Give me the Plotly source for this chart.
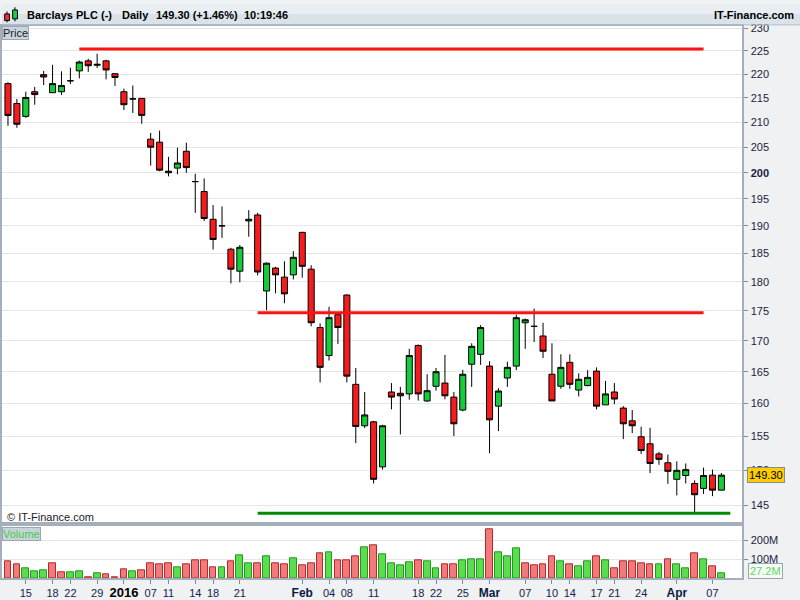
import numpy as np
import plotly.graph_objects as go

# ---------------- data ----------------
dates = [
    "2015-12-11", "2015-12-14", "2015-12-15", "2015-12-16", "2015-12-17", "2015-12-18",
    "2015-12-21", "2015-12-22", "2015-12-23", "2015-12-24", "2015-12-29", "2015-12-30", "2015-12-31",
    "2016-01-04", "2016-01-05", "2016-01-06", "2016-01-07", "2016-01-08",
    "2016-01-11", "2016-01-12", "2016-01-13", "2016-01-14", "2016-01-15",
    "2016-01-18", "2016-01-19", "2016-01-20", "2016-01-21", "2016-01-22",
    "2016-01-25", "2016-01-26", "2016-01-27", "2016-01-28", "2016-01-29",
    "2016-02-01", "2016-02-02", "2016-02-03", "2016-02-04", "2016-02-05",
    "2016-02-08", "2016-02-09", "2016-02-10", "2016-02-11", "2016-02-12",
    "2016-02-15", "2016-02-16", "2016-02-17", "2016-02-18", "2016-02-19",
    "2016-02-22", "2016-02-23", "2016-02-24", "2016-02-25", "2016-02-26",
    "2016-02-29", "2016-03-01", "2016-03-02", "2016-03-03", "2016-03-04",
    "2016-03-07", "2016-03-08", "2016-03-09", "2016-03-10", "2016-03-11",
    "2016-03-14", "2016-03-15", "2016-03-16", "2016-03-17", "2016-03-18",
    "2016-03-21", "2016-03-22", "2016-03-23", "2016-03-24",
    "2016-03-29", "2016-03-30", "2016-03-31", "2016-04-01",
    "2016-04-04", "2016-04-05", "2016-04-06", "2016-04-07", "2016-04-08",
]

opens = [
    218.0, 213.85, 211.2, 216.3, 219.9, 216.1, 216.3, 218.6, 220.7, 222.85, 221.9, 222.85, 220.1,
    216.3, 214.8, 214.9, 206.6, 206.0, 200.0, 200.9, 204.2, 198.3, 196.4, 191.2, 190.0, 185.75,
    181.85, 190.9, 192.0, 178.4, 182.4, 180.8, 181.2,
    188.8, 182.2, 172.2, 167.6, 174.35, 177.7, 163.0, 156.6, 157.2, 150.5, 161.8, 161.6, 161.5,
    169.25, 160.4, 162.7, 163.2, 161.0, 159.0, 166.2, 167.8,
    165.9, 159.6, 164.0, 165.9, 173.0, 172.4, 170.8, 164.6, 162.7, 166.5, 162.1, 162.8, 165.1,
    159.8, 161.8, 159.3, 157.35, 154.95, 153.9, 152.4, 151.1,
    148.7, 149.25, 148.1, 147.4, 149.3, 147.15,
]
highs = [
    218.3, 214.8, 216.3, 217.3, 220.7, 222.0, 220.6, 221.4, 222.9, 223.3, 224.4, 223.1, 220.2,
    216.95, 217.6, 215.0, 207.85, 208.3, 203.1, 204.9, 205.9, 199.8, 198.9, 193.85, 193.6, 186.0,
    186.5, 192.9, 192.4, 183.4, 182.6, 183.6, 185.4,
    188.9, 182.9, 172.9, 175.7, 174.5, 177.8, 165.6, 161.8, 157.35, 156.75, 163.2, 162.6, 168.7,
    169.4, 164.6, 165.6, 167.7, 161.8, 165.3, 169.6, 172.6,
    166.7, 162.4, 166.6, 174.35, 173.7, 175.4, 173.0, 169.6, 167.8, 167.8, 164.75, 165.25, 165.7,
    163.55, 163.2, 159.6, 159.0, 156.45, 156.3, 152.7, 152.3,
    151.3, 151.0, 148.55, 150.4, 150.1, 149.6,
]
lows = [
    209.3, 208.9, 210.9, 213.6, 217.7, 216.0, 215.6, 217.9, 219.1, 220.5, 221.3, 218.9, 217.5,
    212.5, 211.9, 209.7, 201.4, 200.3, 199.3, 199.7, 200.0, 192.4, 190.9, 185.7, 187.8, 179.7,
    179.9, 188.0, 181.1, 175.1, 178.0, 176.3, 180.4,
    180.7, 172.4, 163.3, 166.8, 169.5, 163.3, 154.0, 156.25, 148.1, 150.1, 159.1, 155.3, 160.6,
    160.45, 160.25, 162.0, 160.65, 155.05, 158.8, 162.6, 166.1,
    152.5, 155.8, 162.6, 165.25, 168.7, 169.8, 167.2, 160.4, 162.3, 162.3, 161.1, 162.7, 159.1,
    159.8, 159.9, 154.6, 155.5, 152.4, 149.6, 150.8, 148.05,
    146.4, 148.1, 143.8, 146.6, 146.3, 147.15,
]
closes = [
    211.4, 209.6, 215.1, 215.7, 219.4, 218.0, 217.6, 218.6, 222.6, 221.8, 222.1, 220.9, 219.3,
    213.6, 214.8, 211.4, 205.0, 200.5, 200.3, 201.9, 201.0, 198.3, 191.35, 187.5, 190.0, 182.2,
    186.1, 191.2, 181.7, 183.25, 181.2, 177.9, 184.3,
    182.7, 173.0, 165.7, 173.85, 172.2, 164.3, 156.5, 158.25, 148.7, 156.6, 161.0, 161.2, 167.6,
    161.5, 162.0, 165.0, 161.2, 156.9, 164.6, 169.1, 172.2,
    157.5, 161.95, 165.7, 173.85, 173.5, 172.4, 168.3, 160.4, 165.7, 163.0, 163.8, 164.1, 159.6,
    161.5, 160.7, 156.9, 156.6, 152.9, 151.0, 151.6, 149.85,
    150.0, 150.1, 146.5, 149.25, 147.15, 149.30,
]
volumes_m = [
    89, 74, 53, 37, 42, 79, 32, 32, 37, 6, 26, 21, 4,
    47, 37, 42, 79, 74, 79, 58, 74, 95, 95, 58, 58, 89, 121, 79, 79, 116, 79, 74, 105,
    68, 79, 132, 137, 95, 95, 116, 163, 174, 126, 79, 68, 84, 95, 89, 53, 74, 74, 95, 100, 100,
    258, 137, 116, 158, 79, 68, 74, 116, 89, 74, 63, 89, 116, 95, 53, 89, 89, 79,
    74, 74, 100, 74, 53, 132, 100, 63, 27.2,
]

# drawn horizontal levels (price, start position, end position on the trading-day axis)
level_prices = [225.4, 174.7, 143.9]
level_x0 = [8, 28, 28]
level_x1 = [78, 78, 81]
level_colors = ["#ff1212", "#ff1212", "#008a00"]

tick_dates = ["2015-12-15", "2015-12-18", "2015-12-22", "2015-12-29", "2016-01-04", "2016-01-07",
              "2016-01-11", "2016-01-14", "2016-01-18", "2016-01-21", "2016-02-01", "2016-02-04",
              "2016-02-08", "2016-02-11", "2016-02-18", "2016-02-22", "2016-02-25", "2016-03-01",
              "2016-03-07", "2016-03-10", "2016-03-14", "2016-03-17", "2016-03-21", "2016-03-24",
              "2016-04-01", "2016-04-07"]
tick_labels = ["15", "18", "22", "29", "2016", "07", "11", "14", "18", "21", "Feb", "04", "08", "11",
               "18", "22", "25", "Mar", "07", "10", "14", "17", "21", "24", "Apr", "07"]
bold_labels = ["2016", "Feb", "Mar", "Apr"]

price_ticks = list(range(145, 231, 5))
vol_ticks = [100, 200]

# ---------------- figure ----------------
FONT = "Liberation Sans, Arial, sans-serif"
W, H = 800, 600


def px(x):
    return x / W


def py(y):
    return 1 - y / H


xs = list(range(len(dates)))
x_range = [-0.67, 82.36]
x_dom = [0.0, px(742.3)]

fig = go.Figure()

fig.add_trace(go.Candlestick(
    x=xs, open=opens, high=highs, low=lows, close=closes,
    increasing=dict(line=dict(color="#000000", width=1), fillcolor="#16cc3a"),
    decreasing=dict(line=dict(color="#000000", width=1), fillcolor="#f41c1c"),
    whiskerwidth=0, xaxis="x", yaxis="y", showlegend=False, hoverinfo="skip",
))

for p, a, b, c in zip(level_prices, level_x0, level_x1, level_colors):
    fig.add_trace(go.Scatter(x=[a, b], y=[p, p], mode="lines", line=dict(color=c, width=3),
                             xaxis="x", yaxis="y", showlegend=False, hoverinfo="skip"))

vol_colors, vol_lines = [], []
for i, c in enumerate(closes):
    up = (c >= closes[i - 1]) if i > 0 else (c >= opens[0])
    vol_colors.append("#5ade4e" if up else "#f27a7a")
    vol_lines.append("#1f9a1f" if up else "#b22a2a")

fig.add_trace(go.Bar(
    x=xs, y=[v * 1e6 for v in volumes_m], width=0.76,
    marker=dict(color=vol_colors, line=dict(color=vol_lines, width=1)),
    xaxis="x2", yaxis="y2", showlegend=False, hoverinfo="skip",
))

tickvals = [dates.index(d) for d in tick_dates]
ticktext = []
for t in tick_labels:
    if t == "2016":
        ticktext.append('<b><span style="font-size:13px;color:#000000">2016</span></b>')
    elif t in bold_labels:
        ticktext.append('<b><span style="font-size:12px;color:#0c1a44">%s</span></b>' % t)
    else:
        ticktext.append(t)

price_text = ["<b>%d</b>" % v if v == 200 else str(v) for v in price_ticks]

border = "#a3afbb"
grid = "#e6e6e6"

fig.update_layout(
    width=W, height=H,
    margin=dict(l=0, r=0, t=0, b=0),
    paper_bgcolor="#eff1f3",
    plot_bgcolor="#ffffff",
    font=dict(family=FONT, size=11, color="#1a1a3a"),
    boxgap=0.2, boxgroupgap=0.15,
    bargap=0,
    xaxis=dict(domain=x_dom, range=x_range, anchor="y", showticklabels=False, showgrid=False,
               zeroline=False, showline=True, mirror=True, linecolor=border, linewidth=2,
               rangeslider=dict(visible=False), fixedrange=True),
    yaxis=dict(domain=[py(522.7), py(22)], type="log",
               range=[np.log10(142.64), np.log10(230.53)],
               side="right", anchor="x", tickvals=price_ticks, ticktext=price_text,
               showgrid=True, gridcolor=grid, gridwidth=1, zeroline=False,
               ticks="outside", ticklen=4, tickcolor="#7f8c99",
               showline=True, mirror=True, linecolor=border, linewidth=2,
               tickfont=dict(size=11, color="#1c1c40", family=FONT)),
    xaxis2=dict(domain=x_dom, range=x_range, anchor="y2", tickvals=tickvals, ticktext=ticktext,
                showgrid=False, zeroline=False, showline=True, mirror=True, linecolor=border,
                linewidth=2, ticks="outside", ticklen=4, tickcolor="#7f8c99",
                tickfont=dict(size=11, color="#14244c", family=FONT)),
    yaxis2=dict(domain=[py(579), py(526.7)], range=[0, 275e6], side="right", anchor="x2",
                tickvals=[v * 1e6 for v in vol_ticks], ticktext=["%dM" % v for v in vol_ticks],
                showgrid=True, gridcolor=grid, zeroline=False,
                ticks="outside", ticklen=4, tickcolor="#7f8c99",
                showline=True, mirror=True, linecolor=border, linewidth=2,
                tickfont=dict(size=11, color="#1c1c40", family=FONT)),
)

# header decoration
shapes = [
    dict(type="rect", xref="paper", yref="paper", x0=0, x1=1, y0=py(10), y1=1,
         fillcolor="#e9eef3", line=dict(width=0), layer="below"),
    dict(type="rect", xref="paper", yref="paper", x0=0, x1=1, y0=py(21), y1=py(10),
         fillcolor="#dbe3ea", line=dict(width=0), layer="below"),
    dict(type="line", xref="paper", yref="paper", x0=0, x1=1, y0=py(21), y1=py(21),
         line=dict(color="#b4bfca", width=1)),
    # icon
    dict(type="line", xref="paper", yref="paper", x0=px(5), x1=px(5), y0=py(18.5), y1=py(7.5),
         line=dict(color="#000000", width=1)),
    dict(type="rect", xref="paper", yref="paper", x0=px(2.7), x1=px(7.5), y0=py(16.7), y1=py(10),
         fillcolor="#f03232", line=dict(color="#000000", width=1)),
    dict(type="line", xref="paper", yref="paper", x0=px(13), x1=px(13), y0=py(17.5), y1=py(3.3),
         line=dict(color="#000000", width=1)),
    dict(type="rect", xref="paper", yref="paper", x0=px(10.7), x1=px(15.5), y0=py(15), y1=py(6),
         fillcolor="#22cc44", line=dict(color="#000000", width=1)),
]
fig.update_layout(shapes=shapes)

last = closes[-1]
pct = (closes[-1] / closes[-2] - 1) * 100
hdr_font = dict(family=FONT, size=11, color="#000000")
annotations = [
    dict(text="<b>Barclays PLC (-)</b>", x=px(23), y=py(11)),
    dict(text="<b>Daily</b>", x=px(118), y=py(11)),
    dict(text="<b>%.2f (%+.2f%%)</b>" % (last, pct), x=px(152), y=py(11)),
    dict(text="<b>10:19:46</b>", x=px(241), y=py(11)),
]
annots = []
for a in annotations:
    a.update(xref="paper", yref="paper", xanchor="left", yanchor="middle", showarrow=False,
             font=hdr_font)
    annots.append(a)
annots.append(dict(text="<b>IT-Finance.com</b>", x=px(796), y=py(11), xref="paper", yref="paper",
                   xanchor="right", yanchor="middle", showarrow=False, font=hdr_font))
annots.append(dict(text="Price", x=0, y=py(22), xref="paper", yref="paper", xanchor="left",
                   yanchor="top", showarrow=False, font=dict(family=FONT, size=11, color="#1a1a1a"),
                   bgcolor="#c8d4de", bordercolor="#9aa8b5", borderwidth=1, borderpad=0))
annots.append(dict(text="© IT-Finance.com", x=px(3), y=py(517), xref="paper", yref="paper",
                   xanchor="left", yanchor="middle", showarrow=False,
                   font=dict(family=FONT, size=11, color="#1a1a1a")))
annots.append(dict(text="Volume", x=0, y=py(527.5), xref="paper", yref="paper", xanchor="left",
                   yanchor="top", showarrow=False, font=dict(family=FONT, size=11, color="#4cc84c"),
                   bgcolor="#c6d4d8", bordercolor="#9aa8b5", borderwidth=1, borderpad=0))
annots.append(dict(text="%.2f" % last, x=px(746.5), y=np.log10(last), xref="paper", yref="y",
                   xanchor="left", yanchor="middle", showarrow=False,
                   font=dict(family=FONT, size=11, color="#000000"),
                   bgcolor="#ffcc00", bordercolor="#8c8c8c", borderwidth=1, borderpad=1))
annots.append(dict(text="%.1fM" % volumes_m[-1], x=px(747.5), y=volumes_m[-1] * 1e6, xref="paper",
                   yref="y2", xanchor="left", yanchor="middle", yshift=2, showarrow=False,
                   font=dict(family=FONT, size=11, color="#5ad85a"),
                   bgcolor="#f7faf7", bordercolor="#9aa4ae", borderwidth=1, borderpad=1))
fig.update_layout(annotations=annots)

fig.write_html("out.html", config={"displayModeBar": False},
               post_script="document.body.style.margin='0';document.body.style.overflow='hidden';")
